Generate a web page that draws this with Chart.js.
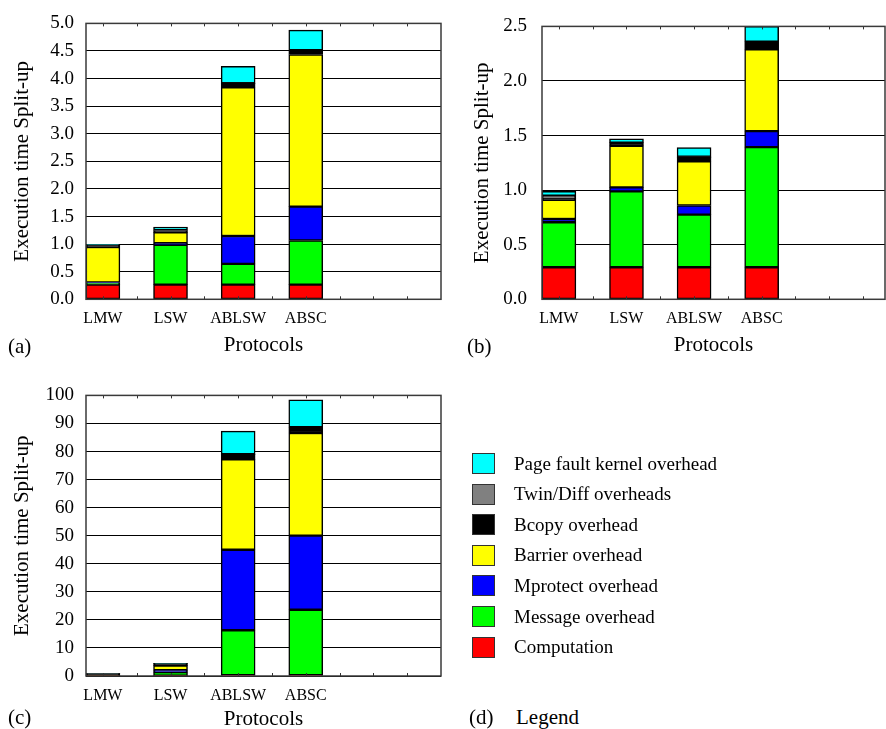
<!DOCTYPE html>
<html>
<head>
<meta charset="utf-8">
<script src="https://cdn.jsdelivr.net/npm/chart.js@4.4.1/dist/chart.umd.min.js"></script>
<style>
  body { margin:0; width:886px; height:729px; overflow:hidden; background:#fff;
         font-family:'Liberation Serif','Times New Roman',serif; color:#000; }
  .panel { position:absolute; }
  .tag { position:absolute; font-size:21px; line-height:1; white-space:nowrap; }
  .leg-row { position:absolute; left:472px; height:21px; display:flex; align-items:center;
             font-size:19px; white-space:nowrap; }
  .sw { width:21px; height:19px; border:1px solid #333; margin-right:19px; flex:none; }
</style>
</head>
<body>
<div class="panel" style="left:0;top:0;"><canvas id="chartA" width="443" height="365"></canvas></div>
<div class="panel" style="left:456px;top:0;"><canvas id="chartB" width="430" height="365"></canvas></div>
<div class="panel" style="left:0;top:372px;"><canvas id="chartC" width="443" height="365"></canvas></div>

<div class="tag" style="left:8px;top:336px;">(a)</div>
<div class="tag" style="left:467px;top:336px;">(b)</div>
<div class="tag" style="left:8px;top:707px;">(c)</div>
<div class="tag" style="left:469px;top:707px;">(d)</div>
<div class="tag" style="left:516px;top:707px;">Legend</div>
<div id="legend"></div>

<script>
// Categories and series
const categories = ['LMW', 'LSW', 'ABLSW', 'ABSC'];
const seriesNames = ['Computation', 'Message overhead', 'Mprotect overhead', 'Barrier overhead',
                     'Bcopy overhead', 'Twin/Diff overheads', 'Page fault kernel overhead'];
const seriesColors = ['#ff0000', '#00ff00', '#0000ff', '#ffff00', '#000000', '#808080', '#00ffff'];

// Panel (a)
const computationA = [0.265, 0.265, 0.265, 0.265];
const messageA     = [0.03, 0.72, 0.376, 0.80];
const mprotectA    = [0.01, 0.03, 0.506, 0.615];
const barrierA     = [0.642, 0.197, 2.696, 2.756];
const bcopyA       = [0.035, 0.035, 0.071, 0.077];
const twinA        = [0.005, 0.005, 0.005, 0.0];
const pagefaultA   = [0.005, 0.055, 0.305, 0.364];

// Panel (b)
const computationB = [0.294, 0.294, 0.294, 0.294];
const messageB     = [0.412, 0.694, 0.482, 1.10];
const mprotectB    = [0.03, 0.038, 0.083, 0.147];
const barrierB     = [0.176, 0.379, 0.406, 0.75];
const bcopyB       = [0.012, 0.03, 0.035, 0.068];
const twinB        = [0.025, 0.0, 0.006, 0.0];
const pagefaultB   = [0.04, 0.035, 0.083, 0.141];

// Panel (c)
const computationC = [0.02, 0.1, 0.3, 0.3];
const messageC     = [0.05, 1.3, 16.0, 23.3];
const mprotectC    = [0.02, 0.7, 28.7, 26.4];
const barrierC     = [0.05, 1.6, 32.2, 36.6];
const bcopyC       = [0.7, 0.7, 1.8, 2.05];
const twinC        = [0.02, 0.0, 0.05, 0.0];
const pagefaultC   = [0.04, 0.1, 8.2, 9.8];

// Y axis ticks per panel
const yTicksA = [0, 0.5, 1.0, 1.5, 2.0, 2.5, 3.0, 3.5, 4.0, 4.5, 5.0];
const yTicksB = [0, 0.5, 1.0, 1.5, 2.0, 2.5];
const yTicksC = [0, 10, 20, 30, 40, 50, 60, 70, 80, 90, 100];

Chart.defaults.font.family = "'Liberation Serif', 'Times New Roman', serif";
Chart.defaults.color = '#000';

// box round the plot, with the small inward ticks on top and bottom
const framePlugin = {
  id: 'frame',
  afterDraw(chart) {
    const a = chart.chartArea, ctx = chart.ctx, xs = chart.scales.x;
    ctx.save();
    ctx.strokeStyle = '#333';
    ctx.lineWidth = 1;
    for (let v = 0.5; v < xs.max; v += 1) {
      const px = Math.round(xs.getPixelForValue(v)) + 0.5;
      ctx.beginPath();
      ctx.moveTo(px, a.top); ctx.lineTo(px, a.top + 3);
      ctx.moveTo(px, a.bottom); ctx.lineTo(px, a.bottom - 3);
      ctx.stroke();
    }
    ctx.strokeStyle = '#3a3a3a';
    ctx.lineWidth = 1.5;
    ctx.strokeRect(a.left, a.top, a.right - a.left, a.bottom - a.top);
    ctx.restore();
  }
};

function makeChart(id, series, yTicks, decimals, o) {
  const datasets = series.map((vals, k) => ({
    label: seriesNames[k],
    data: vals.map((v, i) => ({ x: i * 2 + 0.5, y: v })),
    backgroundColor: seriesColors[k],
    borderColor: '#000',
    borderWidth: 1.5,
    borderSkipped: false,
    barThickness: 34
  }));
  return new Chart(document.getElementById(id), {
    type: 'bar',
    data: { datasets },
    plugins: [framePlugin],
    options: {
      responsive: false,
      animation: false,
      devicePixelRatio: 1,
      layout: { padding: o.pad },
      plugins: { legend: { display: false }, tooltip: { enabled: false } },
      scales: {
        x: {
          type: 'linear', stacked: true, offset: false,
          min: 0, max: o.xMax,
          grid: { display: false, drawTicks: false },
          border: { display: false },
          afterBuildTicks: ax => { ax.ticks = categories.map((c, i) => ({ value: i * 2 + 0.5 })); },
          afterFit: ax => { ax.height = o.xHeight; },
          ticks: { autoSkip: false, maxRotation: 0, padding: 10, font: { size: 16 },
                   callback: (v, i) => categories[i] },
          title: { display: true, text: 'Protocols', font: { size: 21 },
                   padding: { top: 0, bottom: o.xTitlePad } }
        },
        y: {
          stacked: true, z: 1,
          min: yTicks[0], max: yTicks[yTicks.length - 1],
          afterBuildTicks: ax => { ax.ticks = yTicks.map(v => ({ value: v })); },
          afterFit: ax => { ax.width = 86; },
          grid: { color: '#000', lineWidth: 1, drawTicks: false },
          border: { display: false },
          ticks: { padding: o.yTickPad, font: { size: 19 },
                   callback: v => v.toFixed(decimals) },
          title: { display: true, text: 'Execution time Split-up', font: { size: 21 },
                   padding: { top: o.yTitlePad, bottom: 0 } }
        }
      }
    }
  });
}

makeChart('chartA',
  [computationA, messageA, mprotectA, barrierA, bcopyA, twinA, pagefaultA],
  yTicksA, 1,
  { pad: { top: 16, right: 2, left: 0, bottom: 0 }, xMax: 10.5, xHeight: 65.7,
    xTitlePad: 7, yTickPad: 12, yTitlePad: 10 });

makeChart('chartB',
  [computationB, messageB, mprotectB, barrierB, bcopyB, twinB, pagefaultB],
  yTicksB, 1,
  { pad: { top: 16, right: 1, left: 0, bottom: 0 }, xMax: 10.15, xHeight: 65.7,
    xTitlePad: 7, yTickPad: 15, yTitlePad: 14 });

makeChart('chartC',
  [computationC, messageC, mprotectC, barrierC, bcopyC, twinC, pagefaultC],
  yTicksC, 0,
  { pad: { top: 22, right: 2, left: 0, bottom: 0 }, xMax: 10.5, xHeight: 61,
    xTitlePad: 5, yTickPad: 12, yTitlePad: 10 });

// Legend panel (d), top entry first
const legend = document.getElementById('legend');
for (let k = seriesNames.length - 1, r = 0; k >= 0; k--, r++) {
  const row = document.createElement('div');
  row.className = 'leg-row';
  row.style.top = (453 + r * 30.6) + 'px';
  row.innerHTML = '<div class="sw" style="background:' + seriesColors[k] + '"></div><span>' + seriesNames[k] + '</span>';
  legend.appendChild(row);
}
</script>
</body>
</html>
